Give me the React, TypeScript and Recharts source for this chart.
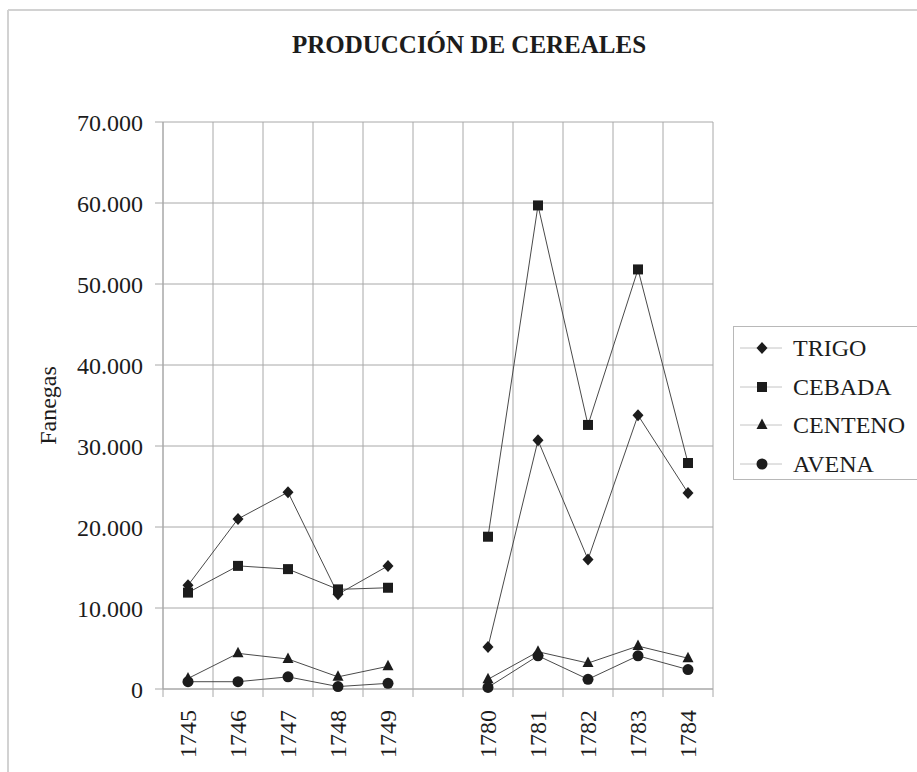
import React from 'react';
import { LineChart, Line, XAxis, YAxis, CartesianGrid, Legend } from 'recharts';

const categories = ['1745', '1746', '1747', '1748', '1749', '', '1780', '1781', '1782', '1783', '1784'];
const trigo = [12800, 21000, 24300, 11700, 15200, null, 5200, 30700, 16000, 33800, 24200];
const cebada = [11900, 15200, 14800, 12300, 12500, null, 18800, 59700, 32600, 51800, 27900];
const centeno = [1300, 4400, 3700, 1500, 2800, null, 1200, 4600, 3200, 5300, 3800];
const avena = [900, 900, 1500, 300, 700, null, 200, 4100, 1200, 4100, 2400];
const yTicks = [0, 10000, 20000, 30000, 40000, 50000, 60000, 70000];

const seriesDefs = [
  { key: 'TRIGO', shape: 'diamond' },
  { key: 'CEBADA', shape: 'square' },
  { key: 'CENTENO', shape: 'triangle' },
  { key: 'AVENA', shape: 'circle' },
];

const data = categories.map((year, i) => ({
  year,
  TRIGO: trigo[i],
  CEBADA: cebada[i],
  CENTENO: centeno[i],
  AVENA: avena[i],
}));

const FONT = '"Liberation Serif", "Times New Roman", Times, serif';
const INK = '#1c1c1c';
const LINE = '#4a4a4a';
const GRID = '#a8a8a8';
const BAND = 50; // half-gap padding on each side of the category points (band layout)

function Marker({ cx, cy, shape }: { cx?: number; cy?: number; shape: string }) {
  if (cx == null || cy == null || Number.isNaN(cx) || Number.isNaN(cy)) return null;
  if (shape === 'diamond')
    return <path d={`M${cx},${cy - 6}L${cx + 5.5},${cy}L${cx},${cy + 6}L${cx - 5.5},${cy}Z`} fill={INK} />;
  if (shape === 'square') return <rect x={cx - 5} y={cy - 5} width={10} height={10} fill={INK} />;
  if (shape === 'triangle')
    return <path d={`M${cx},${cy - 6.5}L${cx + 5.5},${cy + 4}L${cx - 5.5},${cy + 4}Z`} fill={INK} />;
  return <circle cx={cx} cy={cy} r={5.5} fill={INK} />;
}

const YearTick = (props: any) => {
  const { x, y, payload, index, visibleTicksCount } = props;
  const axisY = y;
  const ty = axisY + 21;
  const isLast = index === visibleTicksCount - 1;
  return (
    <g>
      <line x1={x - BAND / 2} x2={x - BAND / 2} y1={axisY} y2={axisY + 8} stroke={GRID} />
      {isLast && <line x1={x + BAND / 2} x2={x + BAND / 2} y1={axisY} y2={axisY + 8} stroke={GRID} />}
      <text
        x={x}
        y={ty}
        transform={`rotate(-90, ${x}, ${ty})`}
        textAnchor="end"
        dy="0.34em"
        fontFamily={FONT}
        fontSize={24}
        fill={INK}
      >
        {payload.value}
      </text>
    </g>
  );
};

const formatY = (v: number) => (v === 0 ? '0' : `${v / 1000}.000`);

const LegendBox = () => (
  <div
    style={{
      boxSizing: 'border-box',
      width: 184,
      height: 154,
      borderTop: '1px solid #b8b8b8',
      borderLeft: '1px solid #b8b8b8',
      borderBottom: '1px solid #b8b8b8',
      background: '#fff',
      paddingTop: 2,
    }}
  >
    {seriesDefs.map((s) => (
      <div key={s.key} style={{ display: 'flex', alignItems: 'center', height: 38.5 }}>
        <svg width={59} height={20} style={{ display: 'block', flex: 'none' }}>
          <line x1={6} x2={48} y1={10} y2={10} stroke="#c4c4c4" strokeWidth={1} />
          <Marker cx={28} cy={10} shape={s.shape} />
        </svg>
        <span style={{ fontFamily: FONT, fontSize: 24, lineHeight: '24px', color: INK, whiteSpace: 'nowrap' }}>
          {s.key}
        </span>
      </div>
    ))}
  </div>
);

export default function App() {
  return (
    <div style={{ position: 'absolute', left: 0, top: 0, width: 917, height: 772, background: '#fff', overflow: 'hidden' }}>
      <svg width={917} height={772} style={{ position: 'absolute', left: 0, top: 0 }}>
        <line x1={8} x2={917} y1={10} y2={10} stroke="#d2d2d2" strokeWidth={2} />
        <line x1={8} x2={8} y1={10} y2={772} stroke="#d2d2d2" strokeWidth={2} />
        <text x={469} y={53} textAnchor="middle" fontFamily={FONT} fontWeight="bold" fontSize={25} fill={INK}>
          PRODUCCIÓN DE CEREALES
        </text>
      </svg>
      <div style={{ position: 'absolute', left: 0, top: 0 }}>
        <LineChart width={917} height={772} data={data} margin={{ top: 122, right: 204, bottom: 0, left: 30 }}>
          <XAxis
            dataKey="year"
            padding={{ left: BAND / 2, right: BAND / 2 }}
            height={83}
            tickSize={0}
            tickMargin={0}
            tickLine={false}
            axisLine={{ stroke: GRID }}
            interval={0}
            tick={<YearTick />}
          />
          <YAxis
            width={133}
            domain={[0, 70000]}
            ticks={yTicks}
            interval={0}
            tickFormatter={formatY}
            tickSize={8}
            tickMargin={12}
            stroke={GRID}
            tickLine={{ stroke: GRID }}
            axisLine={{ stroke: GRID }}
            tick={{ fontFamily: FONT, fontSize: 24, fill: INK }}
            label={{
              content: (p: any) => {
                const vb = p.viewBox || {};
                const cx = vb.x + 18;
                const cy = vb.y + vb.height / 2;
                return (
                  <text
                    x={cx}
                    y={cy}
                    transform={`rotate(-90, ${cx}, ${cy})`}
                    textAnchor="middle"
                    dy="0.34em"
                    fontFamily={FONT}
                    fontSize={24}
                    fill={INK}
                  >
                    Fanegas
                  </text>
                );
              },
            }}
          />
          <CartesianGrid
            stroke={GRID}
            strokeWidth={1}
            verticalCoordinatesGenerator={({ offset }: any) =>
              Array.from({ length: categories.length + 1 }, (_, i) => offset.left + (i * offset.width) / categories.length)
            }
          />
          {seriesDefs.map((s) => (
            <Line
              key={s.key}
              dataKey={s.key}
              name={s.key}
              stroke={LINE}
              strokeWidth={1}
              isAnimationActive={false}
              connectNulls={false}
              dot={(p: any) => <Marker key={`${s.key}-${p.index}`} cx={p.cx} cy={p.cy} shape={s.shape} />}
              activeDot={false}
            />
          ))}
          <Legend
            layout="vertical"
            align="center"
            verticalAlign="middle"
            content={() => <LegendBox />}
            wrapperStyle={{ position: 'absolute', left: 733, top: 326, width: 184, margin: 0, padding: 0 }}
          />
        </LineChart>
      </div>
    </div>
  );
}
